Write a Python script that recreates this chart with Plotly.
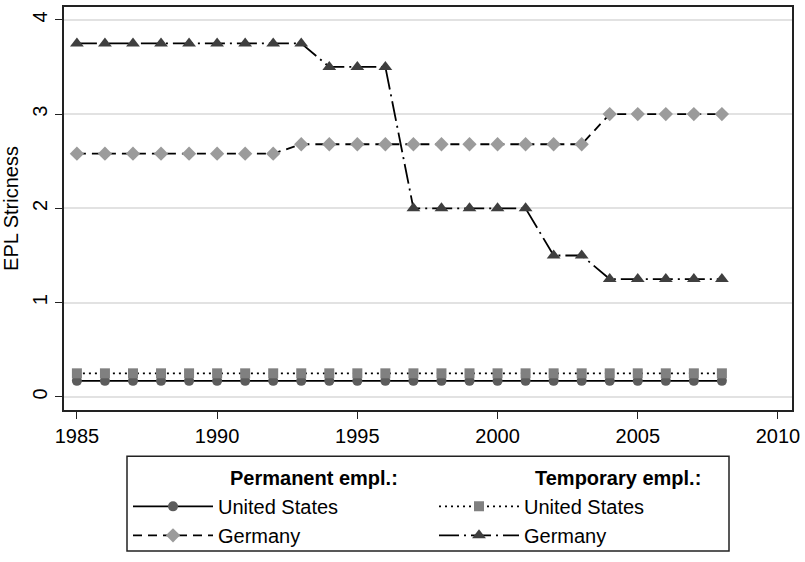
import plotly.graph_objects as go

years = list(range(1985, 2009))
us_perm = [0.17] * 24
us_temp = [0.25] * 24
de_perm = [2.58] * 8 + [2.68] * 11 + [3.0] * 5
de_temp = [3.75] * 9 + [3.5] * 3 + [2.0] * 5 + [1.5] * 2 + [1.25] * 5

x_ticks = [1985, 1990, 1995, 2000, 2005, 2010]
y_ticks = [0, 1, 2, 3, 4]

FONT = "Liberation Sans, Arial, Helvetica, sans-serif"
FS = 20

fig = go.Figure()
fig.add_trace(go.Scatter(
    x=years, y=us_perm, mode="lines+markers", name="United States",
    line=dict(color="black", width=1.8),
    marker=dict(symbol="circle", size=10, color="#5c5c5c", line=dict(width=0)),
    legend="legend"))
fig.add_trace(go.Scatter(
    x=years, y=de_perm, mode="lines+markers", name="Germany",
    line=dict(color="black", width=1.8, dash="9px,6px"),
    marker=dict(symbol="diamond", size=11, color="#9b9b9b", line=dict(width=0)),
    legend="legend"))
fig.add_trace(go.Scatter(
    x=years, y=us_temp, mode="lines+markers", name="United States",
    line=dict(color="black", width=1.8, dash="2px,4px"),
    marker=dict(symbol="square", size=10, color="#808080", line=dict(width=0)),
    legend="legend2"))
fig.add_trace(go.Scatter(
    x=years, y=de_temp, mode="lines+markers", name="Germany",
    line=dict(color="black", width=1.8, dash="20px,5px,2px,5px"),
    marker=dict(symbol="triangle-up", size=12, color="#3f3f3f", line=dict(width=0)),
    legend="legend2"))

W, H = 805, 562
ml, mr, mt, mb = 64, 13, 7, 146
pw, ph = W - ml - mr, H - mt - mb

def px(x):
    return (x - ml) / pw

def py(y):
    return (H - mb - y) / ph

axis_common = dict(
    showline=True, linecolor="#222222", linewidth=1.5, mirror=True,
    ticks="outside", ticklen=7, tickwidth=1.3, tickcolor="#222222",
    tickfont=dict(family=FONT, size=FS, color="black"),
    zeroline=False, automargin=False,
)

fig.update_layout(
    width=W, height=H,
    margin=dict(l=ml, r=mr, t=mt, b=mb),
    plot_bgcolor="white", paper_bgcolor="white",
    font=dict(family=FONT, size=FS, color="black"),
    xaxis=dict(range=[1984.54, 2010.5], tickvals=x_ticks, showgrid=False, **axis_common),
    yaxis=dict(range=[-0.139, 4.136], tickvals=y_ticks, tickangle=-90,
               showgrid=True, gridcolor="#e2e2e2", gridwidth=1.5,
               title=dict(text="EPL Stricness", font=dict(family=FONT, size=FS), standoff=6),
               **axis_common),
    legend=dict(x=px(128), y=py(494), xanchor="left", yanchor="top",
                orientation="v", itemwidth=80, tracegroupgap=0,
                bgcolor="rgba(0,0,0,0)", font=dict(family=FONT, size=FS)),
    legend2=dict(x=px(434), y=py(494), xanchor="left", yanchor="top",
                 orientation="v", itemwidth=80, tracegroupgap=0,
                 bgcolor="rgba(0,0,0,0)", font=dict(family=FONT, size=FS)),
    shapes=[dict(type="rect", xref="paper", yref="paper",
                 x0=px(127), x1=px(729), y0=py(463), y1=py(559),
                 line=dict(color="#222222", width=1.5), fillcolor="rgba(0,0,0,0)")],
    annotations=[
        dict(text="<b>Permanent empl.:</b>", xref="paper", yref="paper",
             x=px(228), y=py(485), xanchor="left", yanchor="middle", showarrow=False,
             font=dict(family=FONT, size=FS)),
        dict(text="<b>Temporary empl.:</b>", xref="paper", yref="paper",
             x=px(533), y=py(485), xanchor="left", yanchor="middle", showarrow=False,
             font=dict(family=FONT, size=FS)),
    ],
)

fig.write_html(
    "out.html",
    config={"displayModeBar": False, "responsive": False},
    post_script=(
        "document.documentElement.style.margin='0px';"
        "document.body.style.margin='0px';"
    ),
)
